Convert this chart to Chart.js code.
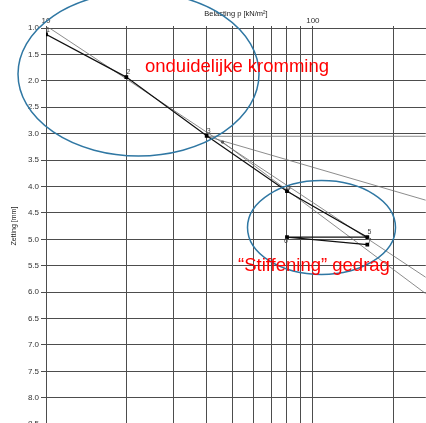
<!DOCTYPE html>
<html>
<head>
<meta charset="utf-8">
<script src="https://cdn.jsdelivr.net/npm/chart.js@4.4.1/dist/chart.umd.min.js"></script>
<style>
html, body { margin: 0; padding: 0; background: #fff; overflow: hidden; }
#wrap { position: relative; width: 431px; height: 431px; }
</style>
</head>
<body>
<div id="wrap"><canvas id="chart"></canvas></div>
<script>
// load steps (kN/m2) and measured settlement (mm)
var loads = [10, 20, 40, 80, 160, 80, 160];
var settlements = [1.12, 1.93, 3.04, 4.09, 4.96, 4.96, 5.10];
var pointNames = ['1', '2', '3', '4', '5', '6', '7'];

// construction lines (Casagrande)
var tangentLoads = [10.3, 265];
var tangentSettl = [1.0, 5.72];
var bisectLoads = [40, 265];
var bisectSettl = [3.05, 4.26];
var horizLoads = [40, 265];
var horizSettl = [3.05, 3.05];
var virginLoads = [45.9, 265];
var virginSettl = [3.16, 6.03];

var xGrid = [10, 20, 30, 40, 50, 60, 70, 80, 90, 100, 200];
var xTickLabels = [10, 100];
var yTicks = [1, 1.5, 2, 2.5, 3, 3.5, 4, 4.5, 5, 5.5, 6, 6.5, 7, 7.5, 8, 8.5];

function pairs(xs, ys) {
    return xs.map(function (x, i) { return { x: x, y: ys[i] }; });
}

function guide(xs, ys) {
    return {
        data: pairs(xs, ys),
        showLine: true,
        borderColor: '#6e6e6e',
        borderWidth: 0.8,
        pointRadius: 0
    };
}

var labelOffsets = [[2, -4], [2, -5], [2, -5], [2, -3], [2, -5], [-1, 4], [2, -4]];

var notes = {
    id: 'notes',
    afterDatasetsDraw: function (chart) {
        var ctx = chart.ctx;
        ctx.save();

        // point numbers
        var meta = chart.getDatasetMeta(0);
        ctx.font = '7px "Liberation Sans"';
        ctx.fillStyle = '#444';
        ctx.textAlign = 'center';
        ctx.textBaseline = 'middle';
        meta.data.forEach(function (pt, i) {
            ctx.fillText(pointNames[i], pt.x + labelOffsets[i][0], pt.y + labelOffsets[i][1]);
        });

        // ellipses
        ctx.strokeStyle = '#2f77a3';
        ctx.lineWidth = 1.5;
        ctx.beginPath();
        ctx.ellipse(138.5, 74, 120.5, 82, 0, 0, Math.PI * 2);
        ctx.stroke();
        ctx.beginPath();
        ctx.ellipse(321.5, 227.5, 74, 47, 0, 0, Math.PI * 2);
        ctx.stroke();

        // remarks
        ctx.fillStyle = '#ff0000';
        ctx.font = '18.5px "Liberation Sans"';
        ctx.textAlign = 'left';
        ctx.textBaseline = 'alphabetic';
        ctx.fillText('onduidelijke kromming', 145, 72);
        ctx.fillText('\u201CStiffening\u201D gedrag', 238, 270.5);

        ctx.restore();
    }
};

new Chart(document.getElementById('chart'), {
    type: 'scatter',
    data: {
        datasets: [
            {
                data: pairs(loads, settlements),
                showLine: true,
                borderColor: '#111',
                borderWidth: 1.2,
                pointStyle: 'rect',
                pointRadius: 1.8,
                pointBackgroundColor: '#000',
                pointBorderColor: '#000'
            },
            guide(tangentLoads, tangentSettl),
            guide(bisectLoads, bisectSettl),
            guide(horizLoads, horizSettl),
            guide(virginLoads, virginSettl),
            {
                data: [{ x: virginLoads[0], y: virginSettl[0] }],
                pointStyle: 'rect',
                pointRadius: 1.3,
                pointBackgroundColor: '#333',
                pointBorderColor: '#333'
            }
        ]
    },
    options: {
        responsive: true,
        maintainAspectRatio: false,
        animation: false,
        layout: { padding: 0 },
        plugins: { legend: { display: false }, tooltip: { enabled: false } },
        scales: {
            x: {
                type: 'logarithmic',
                position: 'top',
                min: 10,
                max: 265,
                afterBuildTicks: function (s) {
                    s.ticks = xGrid.map(function (v) { return { value: v }; });
                },
                afterFit: function (s) {
                    s.height = 28;
                    s.paddingLeft = 0;
                    s.paddingRight = 0;
                },
                ticks: {
                    autoSkip: false,
                    maxRotation: 0,
                    padding: 0,
                    color: '#333',
                    font: { family: 'Liberation Sans', size: 8 },
                    callback: function (v) {
                        return xTickLabels.indexOf(v) >= 0 ? String(v) : '';
                    }
                },
                grid: { color: '#4d4d4d', lineWidth: 1, tickLength: 2 },
                border: { color: '#4d4d4d' },
                title: {
                    display: true,
                    text: 'Belasting p [kN/m\u00B2]',
                    color: '#222',
                    font: { family: 'Liberation Sans', size: 7.5 },
                    padding: { top: 9, bottom: 0 }
                }
            },
            y: {
                type: 'linear',
                reverse: true,
                min: 1,
                max: 8.5,
                afterBuildTicks: function (s) {
                    s.ticks = yTicks.map(function (v) { return { value: v }; });
                },
                afterFit: function (s) { s.width = 46; },
                ticks: {
                    padding: 2,
                    color: '#333',
                    font: { family: 'Liberation Sans', size: 8 },
                    callback: function (v) { return v.toFixed(1); }
                },
                grid: { color: '#4d4d4d', lineWidth: 1, tickLength: 5 },
                border: { color: '#4d4d4d' },
                title: {
                    display: true,
                    text: 'Zetting [mm]',
                    color: '#222',
                    font: { family: 'Liberation Sans', size: 7 },
                    padding: { top: 10, bottom: 0 }
                }
            }
        }
    },
    plugins: [notes]
});
</script>
</body>
</html>
